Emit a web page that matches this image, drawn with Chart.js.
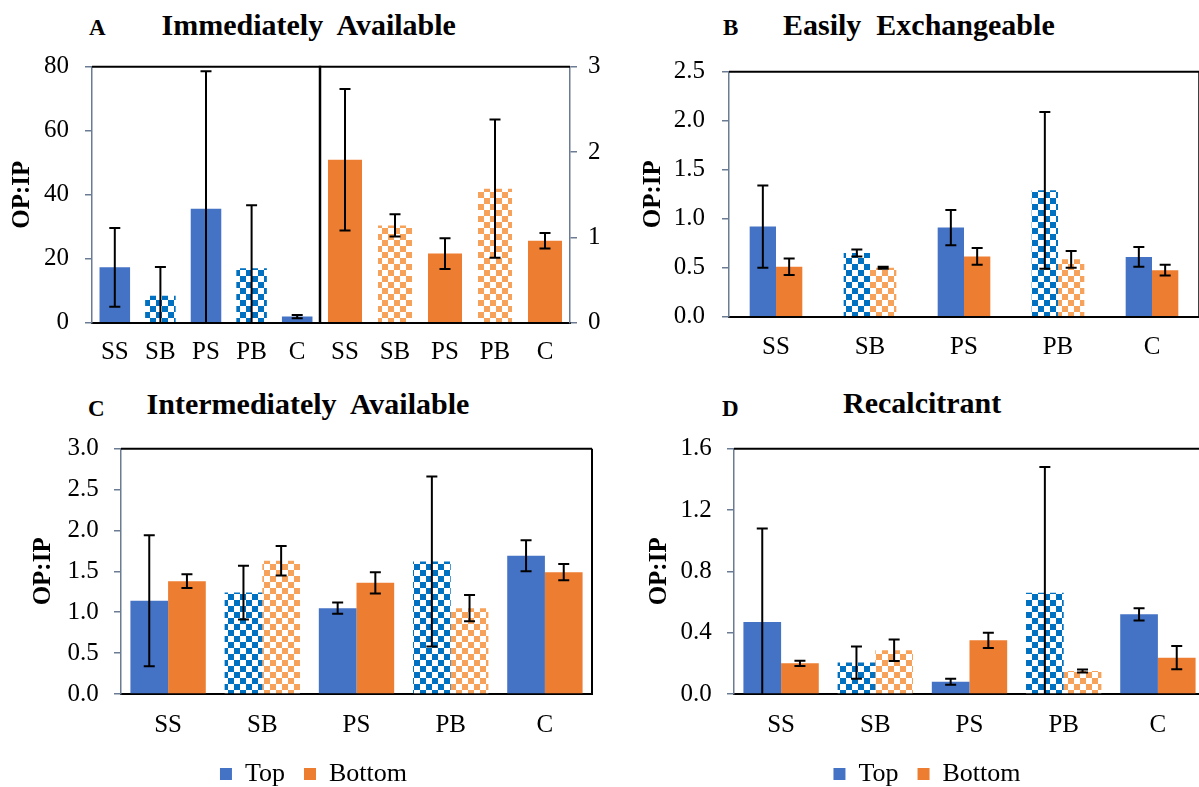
<!DOCTYPE html>
<html><head><meta charset="utf-8">
<script src="https://cdn.jsdelivr.net/npm/chart.js@4.4.1/dist/chart.umd.min.js"></script>
<style>
html,body{margin:0;padding:0;background:#fff;overflow:hidden;width:1199px;height:787px;position:relative;}
canvas{position:absolute;}
.t{position:absolute;font-family:'Liberation Serif','Times New Roman',serif;font-weight:bold;color:#000;white-space:nowrap;word-spacing:7.5px;}
</style></head><body>
<div class="t" style="left:89px;top:15.7px;font-size:23px;line-height:23px">A</div>
<div class="t" style="left:161.5px;top:9.9px;font-size:30px;line-height:30px">Immediately Available</div>
<div class="t" style="left:723px;top:15.7px;font-size:23px;line-height:23px">B</div>
<div class="t" style="left:783px;top:10.4px;font-size:30px;line-height:30px">Easily Exchangeable</div>
<div class="t" style="left:88px;top:396.7px;font-size:23px;line-height:23px">C</div>
<div class="t" style="left:146.6px;top:388.9px;font-size:30px;line-height:30px">Intermediately Available</div>
<div class="t" style="left:722px;top:396.7px;font-size:23px;line-height:23px">D</div>
<div class="t" style="left:843px;top:388.4px;font-size:30px;line-height:30px">Recalcitrant</div>

<canvas id="cA1" width="330" height="390" style="left:0px;top:0px"></canvas>
<canvas id="cA2" width="300" height="390" style="left:310px;top:0px"></canvas>
<canvas id="cB" width="605" height="390" style="left:600px;top:0px"></canvas>
<canvas id="cC" width="600" height="407" style="left:0px;top:390px"></canvas>
<canvas id="cD" width="610" height="407" style="left:600px;top:390px"></canvas>

<script>
// ---------- data ----------
const categories = ['SS', 'SB', 'PS', 'PB', 'C'];
const checkered = [false, true, false, true, false];

// A: Immediately Available (Top on left axis 0-80, Bottom on right axis 0-3)
const aTop = [17.3, 8.4, 35.6, 17.0, 1.9];
const aTopErr = [12.3, 9.0, 43.0, 19.7, 0.5];
const aBottom = [1.91, 1.14, 0.81, 1.57, 0.96];
const aBottomErr = [0.83, 0.13, 0.18, 0.81, 0.09];

// B: Easily Exchangeable
const bTop = [0.92, 0.65, 0.91, 1.29, 0.61];
const bTopErr = [0.42, 0.035, 0.18, 0.80, 0.10];
const bBottom = [0.51, 0.50, 0.615, 0.585, 0.475];
const bBottomErr = [0.085, 0.01, 0.085, 0.085, 0.055];

// C: Intermediately Available
const cTop = [1.14, 1.24, 1.05, 1.62, 1.69];
const cTopErr = [0.80, 0.33, 0.07, 1.04, 0.19];
const cBottom = [1.38, 1.63, 1.36, 1.05, 1.49];
const cBottomErr = [0.085, 0.18, 0.13, 0.16, 0.10];

// D: Recalcitrant
const dTop = [0.47, 0.205, 0.08, 0.66, 0.52];
const dTopErr = [0.61, 0.105, 0.02, 0.82, 0.04];
const dBottom = [0.20, 0.285, 0.35, 0.15, 0.237];
const dBottomErr = [0.017, 0.07, 0.05, 0.01, 0.076];

// ---------- styling ----------
const FONT = "'Liberation Serif', 'Times New Roman', serif";
Chart.defaults.font.family = FONT;
Chart.defaults.color = '#000';
const AXIS = '#6A7B93';
const BLUE = '#4472C4', ORANGE = '#ED7D31', BLUE_CK = '#0070C0', ORANGE_CK = '#F6A25A';

function checker(color, cell) {
  const c = document.createElement('canvas');
  c.width = c.height = cell * 2;
  const g = c.getContext('2d');
  g.fillStyle = '#fff'; g.fillRect(0, 0, cell * 2, cell * 2);
  g.fillStyle = color; g.fillRect(0, 0, cell, cell); g.fillRect(cell, cell, cell, cell);
  return g.createPattern(c, 'repeat');
}
function fillFor(solid, ck) {
  const p = checker(ck, 6);
  return (ctx) => (ctx.dataIndex !== undefined && checkered[ctx.dataIndex]) ? p : solid;
}

const errorBars = {
  id: 'errorBars',
  afterDatasetsDraw(chart) {
    const {ctx, chartArea} = chart;
    ctx.save();
    ctx.beginPath();
    ctx.rect(chartArea.left, chartArea.top - 1, chartArea.right - chartArea.left, chartArea.bottom - chartArea.top + 1);
    ctx.clip();
    ctx.strokeStyle = '#000';
    ctx.lineWidth = 2;
    chart.data.datasets.forEach((ds, di) => {
      if (!ds.errors) return;
      const meta = chart.getDatasetMeta(di);
      const ys = chart.scales[meta.yAxisID];
      meta.data.forEach((bar, i) => {
        const v = ds.data[i], e = ds.errors[i];
        if (v == null || e == null) return;
        const x = bar.x;
        const hi = v + e, lo = v - e;
        const yHi = ys.getPixelForValue(Math.min(hi, ys.max));
        const yLo = ys.getPixelForValue(Math.max(lo, ys.min));
        const cw = 5.5;
        ctx.beginPath();
        ctx.moveTo(x, yHi); ctx.lineTo(x, yLo);
        if (hi <= ys.max) { ctx.moveTo(x - cw, yHi); ctx.lineTo(x + cw, yHi); }
        if (lo >= ys.min) { ctx.moveTo(x - cw, yLo); ctx.lineTo(x + cw, yLo); }
        ctx.stroke();
      });
    });
    ctx.restore();
  }
};

const frame = {
  id: 'frame',
  afterDatasetsDraw(chart, args, o) {
    const {ctx, chartArea: {left, right, top, bottom}} = chart;
    ctx.save();
    ctx.strokeStyle = '#000';
    if (o.top) { ctx.lineWidth = 2; ctx.beginPath(); ctx.moveTo(left, top); ctx.lineTo(right, top); ctx.stroke(); }
    if (o.right) { ctx.lineWidth = o.right; ctx.beginPath(); ctx.moveTo(right, top); ctx.lineTo(right, bottom); ctx.stroke(); }
    if (o.left) { ctx.lineWidth = o.left; ctx.beginPath(); ctx.moveTo(left, top - 1); ctx.lineTo(left, bottom + 1); ctx.stroke(); }
    ctx.restore();
  }
};

function build(id, o) {
  const datasets = o.series.map(s => ({
    label: s.label, data: s.data, errors: s.err,
    backgroundColor: fillFor(s.solid, s.ck), borderWidth: 0,
    categoryPercentage: o.cat, barPercentage: o.bar
  }));
  return new Chart(document.getElementById(id), {
    type: 'bar',
    data: {labels: categories, datasets},
    options: {
      responsive: false, animation: false, devicePixelRatio: 1,
      layout: {padding: o.pad},
      plugins: {
        legend: o.legend ? {
          display: true, position: 'bottom',
          labels: {font: {size: 26, family: FONT}, color: '#000', boxWidth: 12, boxHeight: 12, padding: 19}
        } : {display: false},
        tooltip: {enabled: false},
        frame: o.frame
      },
      scales: {
        x: {
          grid: {display: true, drawOnChartArea: false, drawTicks: false},
          border: {display: true, color: '#000', width: 2},
          ticks: {font: {size: 25, family: FONT}, padding: o.xPad, maxRotation: 0, autoSkip: false},
          afterFit: s => { s.height = o.xH; }
        },
        y: {
          position: o.yPos || 'left', min: 0, max: o.max,
          ticks: {stepSize: o.step, font: {size: 25, family: FONT}, padding: o.yPad,
                  callback: v => o.dec ? Number(v).toFixed(o.dec) : v},
          grid: {display: true, drawOnChartArea: false, drawTicks: true, tickLength: 7, color: AXIS, lineWidth: 1.5},
          border: {display: true, color: AXIS, width: 1.5},
          title: o.tPad !== undefined ? {display: true, text: 'OP:IP', font: {size: 25, weight: 'bold', family: FONT, lineHeight: 1}, padding: {top: o.tPad, bottom: 0}} : {display: false},
          afterFit: s => { s.width = o.yW; }
        }
      }
    },
    plugins: [frame, errorBars]
  });
}

function drawAll() {
  // A left (Top)
  build('cA1', {
    series: [{label: 'Top', data: aTop, err: aTopErr, solid: BLUE, ck: BLUE_CK}],
    cat: 1, bar: 0.67, pad: {left: 0, right: 10, top: 66.7, bottom: 0},
    xH: 67.3, xPad: 15, max: 80, step: 20, yPad: 16, yW: 92, tPad: 10.5,
    frame: {top: true}
  });
  // A right (Bottom)
  build('cA2', {
    series: [{label: 'Bottom', data: aBottom, err: aBottomErr, solid: ORANGE, ck: ORANGE_CK}],
    cat: 1, bar: 0.68, pad: {left: 10, right: 0, top: 66.7, bottom: 0},
    xH: 67.3, xPad: 15, max: 3, step: 1, yPad: 11, yW: 40, yPos: 'right',
    frame: {top: true, left: 2.5}
  });
  // B
  build('cB', {
    series: [
      {label: 'Top', data: bTop, err: bTopErr, solid: BLUE, ck: BLUE_CK},
      {label: 'Bottom', data: bBottom, err: bBottomErr, solid: ORANGE, ck: ORANGE_CK}
    ],
    cat: 0.56, bar: 1, pad: {left: 0, right: 6, top: 71.7, bottom: 0},
    xH: 73.3, xPad: 16, max: 2.5, step: 0.5, dec: 1, yPad: 17, yW: 129, tPad: 41.1,
    frame: {top: true, right: 1.5}
  });
  // C
  build('cC', {
    series: [
      {label: 'Top', data: cTop, err: cTopErr, solid: BLUE, ck: BLUE_CK},
      {label: 'Bottom', data: cBottom, err: cBottomErr, solid: ORANGE, ck: ORANGE_CK}
    ],
    legend: true,
    cat: 0.80, bar: 1, pad: {left: 35, right: 8, top: 58.7, bottom: 0},
    xH: 48, xPad: 16, max: 3, step: 0.5, dec: 1, yPad: 15.3, yW: 86, tPad: -3.5,
    frame: {top: true, right: 2}
  });
  // D
  build('cD', {
    series: [
      {label: 'Top', data: dTop, err: dTopErr, solid: BLUE, ck: BLUE_CK},
      {label: 'Bottom', data: dBottom, err: dBottomErr, solid: ORANGE, ck: ORANGE_CK}
    ],
    legend: true,
    cat: 0.80, bar: 1, pad: {left: 49, right: 5, top: 58.7, bottom: 0},
    xH: 48, xPad: 16, max: 1.6, step: 0.4, dec: 1, yPad: 15.3, yW: 85, tPad: -2.2,
    frame: {top: true, right: 2}
  });
}

let drawn = false;
function go() { if (!drawn) { drawn = true; drawAll(); } }
if (document.fonts && document.fonts.load) {
  Promise.all([
    document.fonts.load("25px 'Liberation Serif'"),
    document.fonts.load("bold 25px 'Liberation Serif'")
  ]).then(go, go);
  setTimeout(go, 1500);
} else {
  go();
}
</script>
</body></html>
